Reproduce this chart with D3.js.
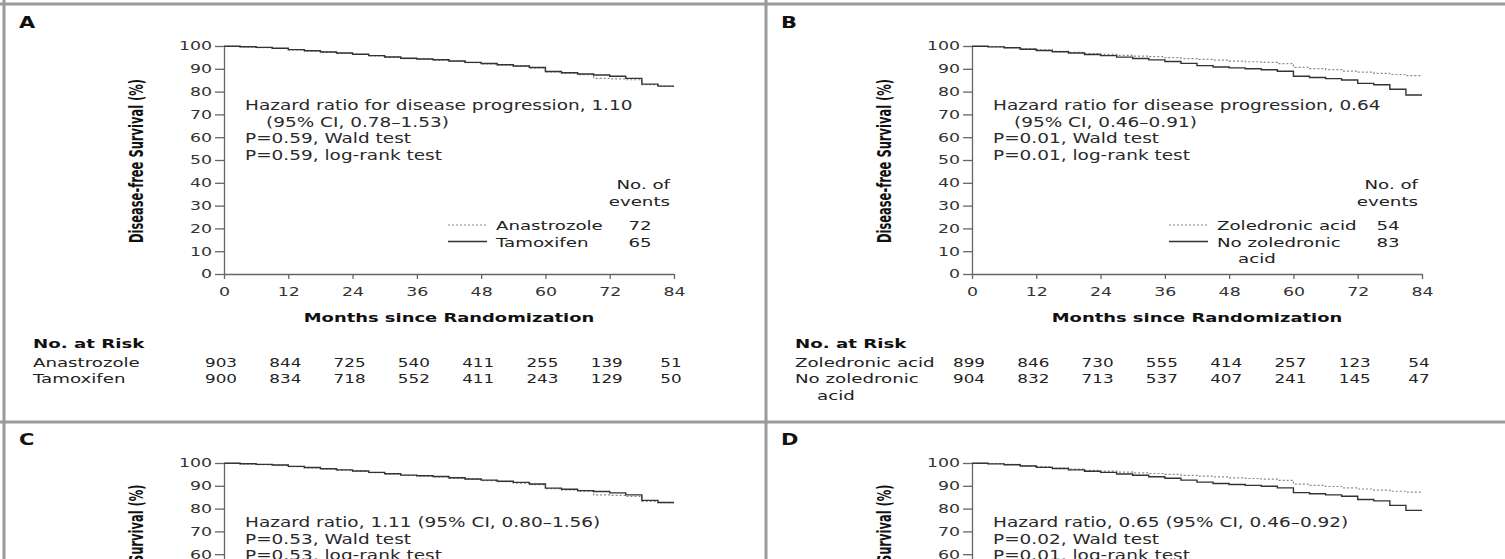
<!DOCTYPE html>
<html>
<head>
<meta charset="utf-8">
<title>Disease-free survival, four panels</title>
<style>
  body { margin:0; background:#fff; }
  svg { display:block; font-family:"DejaVu Sans", sans-serif; }
</style>
</head>
<body>
<svg width="1505" height="559"></svg>

<script src="https://cdnjs.cloudflare.com/ajax/libs/d3/7.8.5/d3.min.js"></script>
<script>
// --- data ---
var months = [0, 3, 6, 9, 12, 15, 18, 21, 24, 27, 30, 33, 36, 39, 42, 45, 48, 51, 54, 57, 60, 63, 66, 69, 72, 75, 78, 81, 84];
var monthTicks = [0, 12, 24, 36, 48, 60, 72, 84];
var pctTicks = [0, 10, 20, 30, 40, 50, 60, 70, 80, 90, 100];

// panel A / B : disease-free survival
var anastrozole  = [100, 99.9, 99.6, 99.3, 98.9, 98.3, 97.8, 97.3, 96.8, 96.3, 95.7, 95.1, 94.5, 94.2, 93.8, 93.2, 92.7, 92.2, 91.7, 91.1, 90.4, 88.6, 88.1, 87.4, 85.8, 85.6, 85.2, 83.0, 82.3];
var tamoxifen    = [100, 99.9, 99.7, 99.4, 99.0, 98.4, 97.9, 97.4, 96.9, 96.4, 95.8, 95.2, 94.6, 94.3, 94.0, 93.4, 92.8, 92.3, 91.8, 91.2, 90.6, 88.8, 88.3, 87.7, 87.3, 86.7, 85.8, 83.3, 82.4];
var zoledronic   = [100, 99.9, 99.7, 99.3, 98.8, 98.3, 97.7, 97.2, 96.7, 96.3, 95.9, 95.6, 95.3, 94.9, 94.5, 94.1, 93.8, 93.4, 93.1, 92.8, 92.3, 90.6, 90.1, 89.6, 89.0, 88.5, 88.0, 87.5, 87.0];
var noZoledronic = [100, 99.9, 99.6, 99.2, 98.6, 98.0, 97.5, 96.9, 96.3, 95.8, 95.1, 94.5, 93.9, 93.2, 92.4, 91.4, 90.8, 90.4, 90.0, 89.6, 88.9, 86.7, 86.2, 85.7, 85.1, 83.6, 83.0, 81.0, 78.5];

// panel C / D
var anastrozoleC  = [100, 99.9, 99.6, 99.3, 99.0, 98.4, 97.9, 97.4, 96.9, 96.4, 95.8, 95.2, 94.6, 94.3, 93.9, 93.3, 92.8, 92.3, 91.8, 91.2, 90.5, 88.7, 88.2, 87.5, 86.0, 85.8, 85.3, 83.2, 82.6];
var tamoxifenC    = [100, 99.9, 99.7, 99.4, 99.1, 98.5, 98.0, 97.5, 97.0, 96.5, 95.9, 95.3, 94.7, 94.4, 94.1, 93.5, 93.0, 92.5, 92.0, 91.5, 90.8, 89.0, 88.5, 87.9, 87.5, 86.9, 86.0, 83.6, 82.7];
var zoledronicD   = [100, 99.9, 99.7, 99.4, 98.9, 98.4, 97.8, 97.3, 96.8, 96.4, 96.0, 95.7, 95.4, 95.0, 94.6, 94.2, 93.9, 93.5, 93.2, 92.9, 92.4, 90.7, 90.2, 89.7, 89.1, 88.6, 88.1, 87.6, 87.2];
var noZoledronicD = [100, 99.9, 99.6, 99.2, 98.7, 98.1, 97.6, 97.0, 96.4, 95.9, 95.2, 94.6, 94.0, 93.3, 92.5, 91.6, 91.0, 90.6, 90.2, 89.8, 89.1, 87.0, 86.5, 86.0, 85.4, 84.0, 83.4, 81.4, 79.2];

// numbers at risk
var riskAnastrozole  = [903, 844, 725, 540, 411, 255, 139, 51];
var riskTamoxifen    = [900, 834, 718, 552, 411, 243, 129, 50];
var riskZoledronic   = [899, 846, 730, 555, 414, 257, 123, 54];
var riskNoZoledronic = [904, 832, 713, 537, 407, 241, 145, 47];

// --- drawing ---
var K = 1.4;   // the figure is stretched sideways
var svg = d3.select("svg");

function txt(g, x, y, s, size, o) {
  o = o || {};
  return g.append("text")
    .attr("transform", "translate(" + x + "," + y + ") scale(" + (o.k || K) + ",1)" + (o.rot ? " rotate(" + o.rot + ")" : ""))
    .attr("font-size", size)
    .attr("font-weight", o.bold ? "bold" : null)
    .attr("text-anchor", o.anchor || "start")
    .attr("fill", o.fill || "#222")
    .text(s);
}

function stretch(axisG) {
  axisG.selectAll(".tick text").each(function() {
    var t = d3.select(this);
    var tx = +t.attr("x") || 0, ty = +t.attr("y") || 0;
    t.attr("transform", "translate(" + tx + "," + ty + ") scale(" + K + ",1)")
     .attr("x", null).attr("y", null);
  });
}

var panels = [
  { letter: "A", fx: 4, dx: 0, dy: 0, full: true, title: "Disease-free Survival (%)",
    notes: [["Hazard ratio for disease progression, 1.10", 0], ["(95% CI, 0.78\u20131.53)", 21], ["P=0.59, Wald test", 0], ["P=0.59, log-rank test", 0]],
    legendX: 496,
    series: [
      { name: ["Anastrozole"], values: anastrozole, dotted: true, events: 72, risk: riskAnastrozole },
      { name: ["Tamoxifen"], values: tamoxifen, dotted: false, events: 65, risk: riskTamoxifen }
    ] },
  { letter: "B", fx: 766, dx: 748, dy: 0, full: true, title: "Disease-free Survival (%)",
    notes: [["Hazard ratio for disease progression, 0.64", 0], ["(95% CI, 0.46\u20130.91)", 21], ["P=0.01, Wald test", 0], ["P=0.01, log-rank test", 0]],
    legendX: 469,
    series: [
      { name: ["Zoledronic acid"], values: zoledronic, dotted: true, events: 54, risk: riskZoledronic },
      { name: ["No zoledronic", "acid"], values: noZoledronic, dotted: false, events: 83, risk: riskNoZoledronic }
    ] },
  { letter: "C", fx: 4, dx: 0, dy: 417, full: false, title: "Recurrence-free Survival (%)",
    notes: [["Hazard ratio, 1.11 (95% CI, 0.80\u20131.56)", 0], ["P=0.53, Wald test", 0], ["P=0.53, log-rank test", 0]],
    series: [
      { values: anastrozoleC, dotted: true },
      { values: tamoxifenC, dotted: false }
    ] },
  { letter: "D", fx: 766, dx: 748, dy: 417, full: false, title: "Recurrence-free Survival (%)",
    notes: [["Hazard ratio, 0.65 (95% CI, 0.46\u20130.92)", 0], ["P=0.02, Wald test", 0], ["P=0.01, log-rank test", 0]],
    series: [
      { values: zoledronicD, dotted: true },
      { values: noZoledronicD, dotted: false }
    ] }
];

panels.forEach(function(p) {
  var g = svg.append("g");
  var dx = p.dx, dy = p.dy;
  var x = d3.scaleLinear().domain([0, 84]).range([224 + dx, 674 + dx]);
  var y = d3.scaleLinear().domain([0, 100]).range([274 + dy, 46 + dy]);

  txt(g, p.fx + 15, dy + 28, p.letter, 15, { bold: true, fill: "#111" });

  // curves
  var line = d3.line()
    .x(function(d) { return x(d[0]); })
    .y(function(d) { return y(d[1]); })
    .curve(d3.curveStepBefore);
  p.series.forEach(function(s) {
    g.append("path")
      .datum(months.map(function(m, i) { return [m, s.values[i]]; }))
      .attr("d", line)
      .attr("fill", "none")
      .attr("stroke", s.dotted ? "#8a8a8a" : "#333")
      .attr("stroke-width", s.dotted ? 1.2 : 1.4)
      .attr("stroke-dasharray", s.dotted ? "2,2" : null);
  });

  // axes (the lower panels are cut off by the picture's edge)
  var yTicks = pctTicks.filter(function(v) { return y(v) < 565; });
  var axes = [];
  axes.push(g.append("g")
    .attr("transform", "translate(" + (224 + dx) + ",0)")
    .call(d3.axisLeft(y).tickValues(yTicks).tickSize(9).tickPadding(3).tickSizeOuter(0)));
  if (p.full) {
    axes.push(g.append("g")
      .attr("transform", "translate(0," + (274 + dy) + ")")
      .call(d3.axisBottom(x).tickValues(monthTicks).tickSize(5).tickPadding(8).tickSizeOuter(0)));
  }
  axes.forEach(function(a) {
    a.selectAll("path, line").attr("stroke", "#666").attr("stroke-width", 1.3);
    a.selectAll("text").attr("font-size", 12.4).attr("fill", "#333")
      .attr("font-family", "DejaVu Sans, sans-serif");
    stretch(a);
  });

  txt(g, 143 + dx, 161 + dy, p.title, 11.5, { bold: true, anchor: "middle", rot: -90, k: 1.7, fill: "#111" });

  // annotation
  p.notes.forEach(function(n, i) {
    txt(g, 245 + dx + n[1], 110 + dy + i * 16.7, n[0], 13.2, { fill: "#2a2a2a" });
  });

  if (!p.full) return;

  // legend
  txt(g, 670 + dx, 189, "No. of", 13, { anchor: "end" });
  txt(g, 670 + dx, 206, "events", 13, { anchor: "end" });
  p.series.forEach(function(s, i) {
    var by = 230 + i * 16.5;
    var lx = p.legendX + dx;
    g.append("line")
      .attr("x1", lx - 48).attr("x2", lx - 9)
      .attr("y1", by - 5).attr("y2", by - 5)
      .attr("stroke", s.dotted ? "#8a8a8a" : "#333")
      .attr("stroke-width", s.dotted ? 1.2 : 1.4)
      .attr("stroke-dasharray", s.dotted ? "2,2" : null);
    s.name.forEach(function(nm, j) {
      txt(g, lx + (j ? 21 : 0), by + j * 16.5, nm, 13);
    });
    txt(g, 640 + dx, by, s.events, 13, { anchor: "middle" });
  });

  txt(g, 449 + dx, 321.5, "Months since Randomization", 12.8, { bold: true, anchor: "middle", fill: "#111" });

  // numbers at risk
  txt(g, p.fx + 29, 348, "No. at Risk", 13, { bold: true, fill: "#111" });
  p.series.forEach(function(s, i) {
    var by = 366.5 + i * 16.5;
    s.name.forEach(function(nm, j) {
      txt(g, p.fx + 29 + (j ? 22 : 0), by + j * 16.8, nm, 13);
    });
    s.risk.forEach(function(v, k) {
      txt(g, x(monthTicks[k]) - 3, by, v, 12, { anchor: "middle" });
    });
  });
});

// frame of the four panels
var frame = svg.append("g").attr("stroke", "#9a9a9a").attr("stroke-width", 3);
frame.append("line").attr("x1", 0).attr("x2", 1505).attr("y1", 4).attr("y2", 4);
frame.append("line").attr("x1", 4).attr("x2", 4).attr("y1", 0).attr("y2", 559);
frame.append("line").attr("x1", 766).attr("x2", 766).attr("y1", 0).attr("y2", 559);
frame.append("line").attr("x1", 0).attr("x2", 1505).attr("y1", 422).attr("y2", 422);
</script>
</body>
</html>
